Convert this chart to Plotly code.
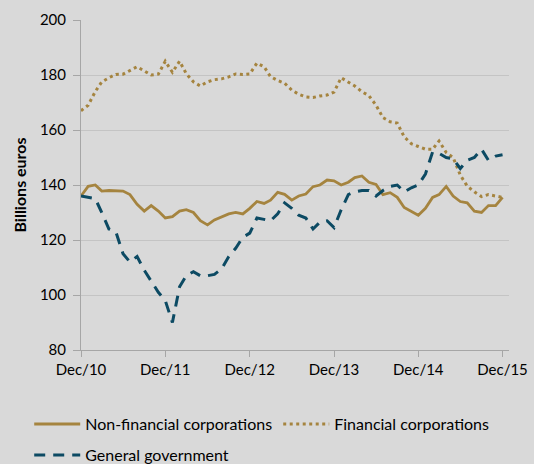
import pandas as pd
import plotly.graph_objects as go

months = pd.date_range("2010-12-01", periods=61, freq="MS")

non_financial = [136, 139.5, 140, 137.8, 138, 137.8, 137.8, 136.5, 133, 130.5, 132.5, 130.5,
                 128, 128.5, 130.5, 131, 130, 127, 125.5, 127.3, 128.5, 129.5, 130, 129.5,
                 131.5, 134, 133.3, 134.5, 137.3, 136.6, 134.5, 136, 136.7, 139.4, 140, 141.8,
                 141.5, 140, 141, 142.7, 143.3, 141, 140.2, 136.5, 137.2, 135.5, 131.8, 130.3,
                 129, 131.5, 135.5, 136.5, 139.5, 136, 134, 133.5, 130.5, 130, 132.5, 132.5,
                 135.5]

financial = [167, 169, 174, 177.5, 179, 180.2, 180.3, 181.5, 183, 181.5, 180, 180.3,
             185, 181, 185, 180.5, 177.5, 176, 177.5, 178.3, 178.6, 179.3, 180.4, 180.2,
             180.4, 184.3, 183, 179.4, 178, 177, 174.5, 173, 172, 171.8, 172.4, 172.7,
             173.8, 179, 177.5, 176, 173.9, 172.5, 169, 164.5, 163, 162.5, 157.5, 155,
             154, 153, 153, 156, 151.8, 150, 143.6, 139.6, 137.5, 135.8, 136.5, 136,
             135.5]

general_gov = [136, 135.5, 135, 130, 124, 123, 115, 112, 114, 109, 105, 101,
               98, 90, 103, 107, 108.5, 107, 107, 107.5, 109.5, 114, 117, 121,
               122.5, 128, 127.5, 127, 129.5, 133.5, 131.5, 129, 128, 124, 126.5, 127,
               124.5, 131, 136.5, 137.5, 138, 138, 136, 138, 139.5, 140, 137.5, 139,
               140, 144, 152, 151.5, 150, 149.5, 146, 149, 150, 153, 149, 150.5,
               151]

tick_dates = pd.date_range("2010-12-01", periods=6, freq="12MS")
tick_labels = ["Dec/10", "Dec/11", "Dec/12", "Dec/13", "Dec/14", "Dec/15"]

gold = "#a5843f"
blue = "#0c4a63"
bg = "#d9d9d9"
font = "Lato"

fig = go.Figure()
fig.add_trace(go.Scatter(x=months, y=non_financial, mode="lines",
                         name="Non-financial corporations", legend="legend",
                         line=dict(color=gold, width=2.8)))
fig.add_trace(go.Scatter(x=months, y=financial, mode="lines",
                         name="Financial corporations", legend="legend",
                         line=dict(color=gold, width=3, dash="3px,3.5px")))
fig.add_trace(go.Scatter(x=months, y=general_gov, mode="lines",
                         name="General government", legend="legend2",
                         line=dict(color=blue, width=3, dash="11px,8px")))

legend_common = dict(orientation="h", xanchor="left", yanchor="top",
                     bgcolor="rgba(0,0,0,0)", itemwidth=46,
                     font=dict(family=font, size=16, color="#000000"))

fig.update_layout(
    width=534, height=464,
    paper_bgcolor=bg, plot_bgcolor=bg,
    margin=dict(l=81, r=25, t=20, b=114, autoexpand=False),
    font=dict(family=font, size=15, color="#000000"),
    showlegend=True,
    legend=dict(x=-0.121, y=-0.173, entrywidth=188, **legend_common),
    legend2=dict(x=-0.121, y=-0.267, **legend_common),
    xaxis=dict(
        range=[pd.Timestamp("2010-12-01"), pd.Timestamp("2015-12-29")],
        tickvals=list(tick_dates), ticktext=tick_labels,
        showgrid=False, showline=True, linecolor="#a6a6a6", linewidth=1,
        ticks="outside", ticklen=6, tickcolor="#a6a6a6",
        tickfont=dict(family=font, size=15), zeroline=False, automargin=False,
    ),
    yaxis=dict(
        range=[80, 200], dtick=20, tick0=80,
        showgrid=True, gridcolor="#c4c4c4", gridwidth=1,
        showline=True, linecolor="#a6a6a6", linewidth=1,
        ticks="outside", ticklen=7, tickcolor="#a6a6a6", ticklabelstandoff=4,
        tickfont=dict(family=font, size=15), zeroline=False, automargin=False,
        title=dict(text="<b>Billions euros</b>", font=dict(family=font, size=16), standoff=9),
    ),
)

fig.write_html("out.html", config={"displayModeBar": False},
               post_script="document.body.style.margin='0px';")
